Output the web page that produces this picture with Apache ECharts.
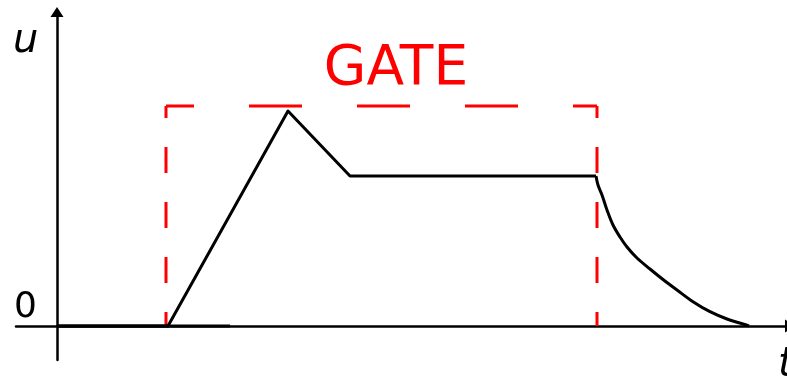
<!DOCTYPE html>
<html>
<head>
<meta charset="utf-8">
<script src="https://cdn.jsdelivr.net/npm/echarts@6/dist/echarts.min.js"></script>
<style>html,body{margin:0;padding:0;background:#fff;}#c{width:787px;height:385px;}</style>
</head>
<body>
<div id="c"></div>
<script>
// Envelope u(t): attack, decay, sustain (arbitrary units)
var envelope = [[0,0],[111,0],[231,215],[293,150],[539,150]];
// Release phase
var release = [[539,150],[541,141],[545,131],[550,116],[556,101],[563,89],[570,79],[580,68],[593,57],[606,46.5],[620,36],[636,24.3],[653,14.3],[670,7],[686,2],[692,0]];
var baseline = [[0,0],[173,0]];
// Gate window
var gateStart = 109, gateEnd = 540, gateLevel = 220;
var gateLeft = [[gateStart, gateLevel],[gateStart, 0]];
var gateTop = [[gateStart, gateLevel],[gateEnd, gateLevel]];
var gateRight = [[gateEnd, gateLevel],[gateEnd, 0]];
var yTickValues = [0];
var gateLabel = 'GATE', uLabel = 'u', tLabel = 't';

var chart = echarts.init(document.getElementById('c'));
var font = 'DejaVu Sans';
chart.setOption({
  animation: false,
  backgroundColor: '#fff',
  title: [
    {text: gateLabel, left: 396, top: 42, textAlign: 'center', padding: 0,
     textStyle: {color: '#ff0000', fontSize: 55, fontWeight: 'normal', fontFamily: font}},
    {text: uLabel, left: 13, top: 22, padding: 0,
     textStyle: {color: '#000', fontSize: 40, fontStyle: 'italic', fontWeight: 'normal', fontFamily: font}},
    {text: tLabel, left: 778, top: 346, padding: 0,
     textStyle: {color: '#000', fontSize: 40, fontStyle: 'italic', fontWeight: 'normal', fontFamily: font}}
  ],
  grid: {left: 16, right: -3, top: 12, bottom: 25, containLabel: false, outerBoundsMode: 'none'},
  xAxis: {
    type: 'value', min: -41, max: 733,
    axisLine: {onZero: true, symbol: ['none','triangle'], symbolSize: [13, 10], lineStyle: {color: '#000', width: 2.5}},
    axisTick: {show: false}, axisLabel: {show: false}, splitLine: {show: false}
  },
  yAxis: {
    type: 'value', min: -34, max: 314,
    axisLine: {onZero: true, symbol: ['none','triangle'], symbolSize: [13, 10], lineStyle: {color: '#000', width: 2.5}},
    axisTick: {show: false},
    axisLabel: {show: true, customValues: yTickValues, margin: -21, fontSize: 36, color: '#000', fontFamily: font, verticalAlign: 'bottom', align: 'right'},
    splitLine: {show: false}
  },
  series: [
    {type: 'line', data: gateLeft, symbol: 'none', silent: true,
     lineStyle: {color: '#ff0000', width: 3, type: [26, 29], dashOffset: 14}},
    {type: 'line', data: gateTop, symbol: 'none', silent: true,
     lineStyle: {color: '#ff0000', width: 3, type: [53, 55], dashOffset: 25}},
    {type: 'line', data: gateRight, symbol: 'none', silent: true,
     lineStyle: {color: '#ff0000', width: 3, type: [26, 29], dashOffset: 14}},
    {type: 'line', data: baseline, symbol: 'none', silent: true,
     lineStyle: {color: '#000', width: 3}},
    {type: 'line', data: envelope, symbol: 'none', silent: true,
     lineStyle: {color: '#000', width: 3, join: 'round'}},
    {type: 'line', data: release, symbol: 'none', silent: true, smooth: 0.35,
     lineStyle: {color: '#000', width: 3}}
  ]
});
</script>
</body>
</html>
